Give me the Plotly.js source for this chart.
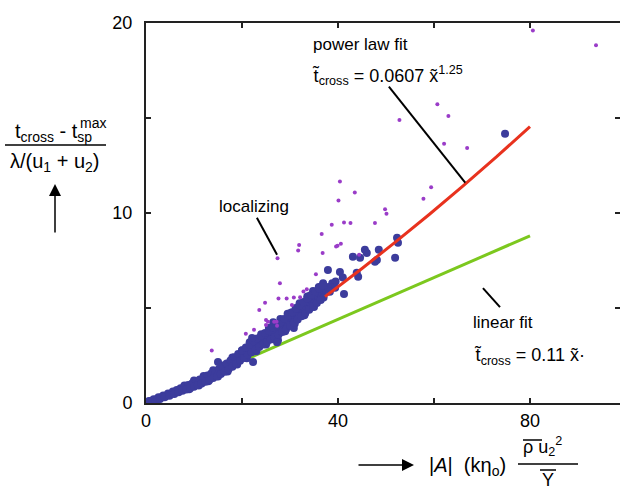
<!DOCTYPE html>
<html><head><meta charset="utf-8">
<script src="https://cdn.plot.ly/plotly-3.0.1.min.js"></script>
<style>html,body{margin:0;padding:0;background:#fff}#c{width:620px;height:492px}</style>
</head><body><div id="c"></div>
<script>
// ---- data ----
const bandX = [0.2,0.5,0.8,1.1,1.4,1.8,2.1,2.5,2.9,3.2,3.6,4.0,4.3,4.7,5.1,5.5,5.9,6.3,6.6,7.0,7.4,7.8,8.2,8.6,9.0,9.4,9.8,10.2,10.6,11.0,11.4,11.8,12.2,12.6,13.0,13.4,13.8,14.2,14.6,15.0,15.4,15.8,16.2,16.6,17.0,17.4,17.8,18.2,18.6,19.0,19.4,19.8,20.2,20.6,21.0,21.4,21.8,22.2,22.6,23.0,23.4,23.8,24.2,24.6,25.0,25.4,25.8,26.2,26.6,27.0,27.4,27.8,28.2,28.6,29.0,29.4,29.8,30.2,30.6,31.0,31.4,31.8,32.2,32.6,33.0,33.4,33.8,34.2,34.6,35.0,35.4,35.8,36.2,36.6,37.0,37.4,
  8,10,12,14,16,18,20,22,24,26,28,30,32,34,36,
  9,11,13,15,17,19,21,23,25,27,29,31,33,35,37,
  29.5,31.2,33.6,34.8,36.9,30.8,27.5,25.6,21.6,26.5,38.0,38.8,39.5];
const bandY = [0.02,0.04,0.08,0.10,0.13,0.16,0.19,0.22,0.27,0.29,0.33,0.36,0.40,0.42,0.47,0.50,0.55,0.57,0.62,0.64,0.69,0.72,0.77,0.79,0.85,0.87,0.93,0.96,1.03,1.05,1.12,1.15,1.22,1.24,1.32,1.34,1.42,1.45,1.54,1.55,1.66,1.68,1.80,1.82,1.95,1.97,2.10,2.12,2.27,2.28,2.44,2.44,2.60,2.60,2.76,2.74,2.92,2.90,3.06,3.05,3.20,3.18,3.33,3.33,3.46,3.47,3.60,3.60,3.72,3.73,3.85,3.87,4.00,4.02,4.16,4.18,4.34,4.36,4.52,4.55,4.70,4.72,4.88,4.90,5.05,5.08,5.22,5.26,5.40,5.44,5.58,5.62,5.76,5.80,5.92,6.00,
  0.92,1.18,1.42,1.72,1.98,2.40,2.78,3.20,3.62,3.95,4.42,4.72,5.25,5.62,6.10,
  0.72,0.92,1.14,1.40,1.66,2.02,2.36,2.72,3.08,3.38,3.78,4.18,4.62,5.05,5.55,
  4.70,5.00,5.60,5.90,6.30,3.95,3.30,3.95,3.20,4.25,6.10,6.30,6.40];
const bandUpperX = [0.6,1.6,2.6,3.6,4.6,5.6,6.4,7.2,8.0,8.8,9.6,10.4,11.2,12.0,12.8,13.6,14.4,15.2,16.0,16.8,17.6,18.4,19.2,20.0,20.8,21.6,22.4,23.2,24.0,24.8,25.6,26.4,27.2,28.0,28.8,29.6,30.4,31.2,32.0,32.8,33.6,34.4,35.2,36.0,36.8];
const bandUpperY = [0.10,0.20,0.30,0.40,0.50,0.60,0.68,0.77,0.86,0.95,1.03,1.13,1.24,1.34,1.45,1.55,1.67,1.79,1.94,2.08,2.24,2.41,2.58,2.76,2.92,3.08,3.24,3.40,3.54,3.68,3.82,3.97,4.10,4.25,4.42,4.60,4.78,4.96,5.15,5.32,5.50,5.68,5.86,6.02,6.18];
const bandLowerX = [0.9,1.9,2.9,3.9,4.9,5.9,6.8,7.6,8.4,9.2,10.0,10.8,11.6,12.4,13.2,14.0,14.8,15.6,16.4,17.2,18.0,18.8,19.6,20.4,21.2,22.0,22.8,23.6,24.4,25.2,26.0,26.8,27.6,28.4,29.2,30.0,30.8,31.6,32.4,33.2,34.0,34.8,35.6,36.4];
const bandLowerY = [0.03,0.12,0.21,0.30,0.38,0.48,0.56,0.64,0.71,0.78,0.86,0.95,1.03,1.12,1.21,1.31,1.41,1.52,1.64,1.77,1.91,2.06,2.22,2.37,2.52,2.67,2.81,2.95,3.08,3.21,3.34,3.46,3.59,3.74,3.90,4.06,4.23,4.40,4.57,4.74,4.91,5.08,5.26,5.42];
const blueOutX = [15.0,22.3,22.1,27.3,37.9,38.7,39.4,40.4,41.0,41.25,43.1,43.9,44.2,44.6,45.6,46.0,47.7,48.1,48.5,51.9,52.3,52.5,38.3,74.8];
const blueOutY = [2.16,2.16,3.42,3.20,7.00,6.10,6.06,6.90,6.60,5.74,7.70,6.85,6.64,7.64,8.06,7.90,7.43,7.53,8.06,7.64,8.70,8.43,5.85,14.17];
const purpleX = [13.7,20.8,22.5,23.6,25.0,25.0,25.4,24.8,26.7,27.2,27.3,27.9,27.6,27.4,29.3,30.4,30.8,32.1,32.8,33.5,31.7,31.9,35.4,36.6,36.8,38.7,39.6,39.9,40.6,40.1,40.4,41.25,42.6,43.5,44.4,47.7,49.8,50.1,60.7,63.0,52.8,62.1,66.9,59.4,57.8,80.6,93.75];
const purpleY = [2.76,3.64,3.85,4.90,4.37,4.10,4.27,5.28,4.28,4.28,4.07,6.30,5.50,7.62,5.50,5.16,5.55,5.57,5.87,5.99,8.03,8.31,6.78,8.90,7.89,9.38,8.24,8.27,8.38,10.66,11.66,9.50,9.47,11.08,7.80,9.47,10.20,9.96,15.72,15.10,14.90,13.65,13.42,11.36,10.75,19.60,18.83];
const powerFitX = [37.3,45,52,59,66,73,80];
const powerFitY = [5.60,7.08,8.48,9.92,11.42,12.95,14.55];
const linFitX = [21.7,80];
const linFitY = [2.39,8.80];
const xTickVals = [0,20,40,60,80];
const xTickText = ['0','','40','','80'];
const yTickVals = [0,5,10,15,20];
const yTickText = ['0','','10','','20'];

// ---- layout helpers (pixel -> paper) ----
const L=146, T=23, W=474, H=380;
const px = v => (v-L)/W;
const py = v => (T+H-v)/H;
const FONT = 'Liberation Sans, Arial, sans-serif';
function ann(text, x, y, size, xa, ya, extra){
  return Object.assign({text:text, xref:'paper', yref:'paper', x:px(x), y:py(y), showarrow:false,
    xanchor:xa||'center', yanchor:ya||'middle', font:{family:FONT,size:size,color:'#000'}}, extra||{});
}
function seg(x0,y0,x1,y1,w){
  return {type:'line', xref:'paper', yref:'paper', x0:px(x0), y0:py(y0), x1:px(x1), y1:py(y1), line:{color:'#000',width:w||2}};
}

const blueX = bandX.concat(bandUpperX, bandLowerX, blueOutX);
const blueY = bandY.concat(bandUpperY, bandLowerY, blueOutY);

const traces = [
  {x:linFitX, y:linFitY, mode:'lines', line:{color:'#7cc81e', width:3}},
  {x:blueX, y:blueY, mode:'markers', marker:{color:'#3c3c9c', size:8}},
  {x:powerFitX, y:powerFitY, mode:'lines', line:{color:'#e8321e', width:3}},
  {x:purpleX, y:purpleY, mode:'markers', marker:{color:'#9a3cc8', size:4}}
];

const axisCommon = {showline:true, linewidth:2, linecolor:'#222', mirror:'ticks', ticks:'inside', ticklen:5, tickwidth:1.5, tickcolor:'#222', showgrid:false, zeroline:false, tickfont:{family:FONT,size:18,color:'#000'}};

const layout = {
  width:620, height:492, margin:{l:L, r:0, t:T, b:492-T-H}, showlegend:false,
  paper_bgcolor:'#fff', plot_bgcolor:'#fff',
  xaxis:Object.assign({}, axisCommon, {range:[0, W/4.8], tickmode:'array', tickvals:xTickVals, ticktext:xTickText}),
  yaxis:Object.assign({}, axisCommon, {range:[0,20], tickmode:'array', tickvals:yTickVals, ticktext:yTickText, ticklabelstandoff:8}),
  annotations:[
    ann('power law fit', 360, 45, 17),
    ann('t\u0303<sub>cross</sub> = 0.0607 x\u0303<sup>1.25</sup>', 310, 75, 18, 'left'),
    ann('localizing', 254, 206, 17),
    ann('linear fit', 503, 322, 17),
    ann('t\u0303<sub>cross</sub> = 0.11 x\u0303\u00b7', 472, 356, 18, 'left'),
    // y-axis title
    ann('t<sub>cross</sub> - t<sub>sp</sub>', 13, 132, 20, 'left'),
    ann('max', 78, 123, 14, 'left'),
    ann('\u03bb/(u<sub>1</sub> + u<sub>2</sub>)', 55, 162, 20, 'center'),
    {text:'', xref:'paper', yref:'paper', x:px(55), y:py(184), ax:0, ay:50, showarrow:true, arrowhead:2, arrowsize:1.6, arrowwidth:1.5, arrowcolor:'#000'},
    // x-axis title
    {text:'', xref:'paper', yref:'paper', x:px(414), y:py(465), ax:-57, ay:0, showarrow:true, arrowhead:2, arrowsize:1.6, arrowwidth:1.5, arrowcolor:'#000'},
    ann('|<i>A</i>|\u00a0\u00a0(k\u03b7<sub>o</sub>)', 427, 466, 20, 'left'),
    ann('\u03c1 u<sub>2</sub><sup>2</sup>', 521, 446, 18, 'left'),
    ann('Y', 548, 480, 18, 'center')
  ],
  shapes:[
    {type:'line', xref:'x', yref:'y', x0:50.6, y0:16.65, x1:66.5, y1:11.6, line:{color:'#000',width:2}},
    {type:'line', xref:'x', yref:'y', x0:23.1, y0:9.75, x1:27.3, y1:7.8, line:{color:'#000',width:2}},
    {type:'line', xref:'x', yref:'y', x0:70.2, y0:6.05, x1:73.75, y1:5.05, line:{color:'#000',width:2}},
    seg(5,145,106,145,1.5),
    seg(518,464,578,464,1.5),
    seg(523,440,542,440,1.5),
    seg(540,470,556,470,1.5)
  ]
};
Plotly.newPlot('c', traces, layout, {displayModeBar:false, staticPlot:true});
</script></body></html>
